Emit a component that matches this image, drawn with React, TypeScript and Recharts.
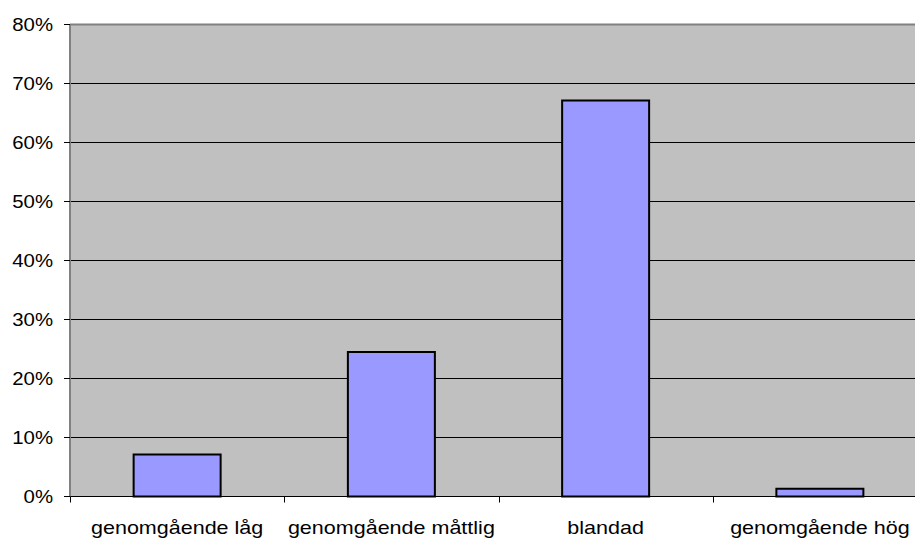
import React from "react";
import { BarChart, Bar, XAxis, YAxis, CartesianGrid, ReferenceLine } from "recharts";

const categories = ["genomgående låg", "genomgående måttlig", "blandad", "genomgående hög"];
const shares = [0.071, 0.245, 0.671, 0.013];
const yTicks = [0, 0.1, 0.2, 0.3, 0.4, 0.5, 0.6, 0.7, 0.8];

const data = categories.map((c, i) => ({ name: c, value: shares[i] }));

const CHART_W = 930;
const CHART_H = 541;
const MARGIN = { top: 24.5, right: 3, left: 0, bottom: 0 };
const Y_W = 70;
const PLOT_W = CHART_W - MARGIN.left - MARGIN.right - Y_W;
const HALF_BAND = PLOT_W / categories.length / 2;
const FONT = "Liberation Sans, Arial, sans-serif";

const XTick = (props: any) => {
  const { x, y, payload } = props;
  const top = y - 8;
  const lx = Math.round(x - HALF_BAND) + 0.5;
  return (
    <g>
      <line x1={lx} x2={lx} y1={top} y2={top + 6} stroke="#000" strokeWidth={1} />
      <text
        transform={`translate(${x},${top + 37.5}) scale(1.17,1)`}
        x={0}
        y={0}
        textAnchor="middle"
        fontFamily={FONT}
        fontSize={18.4}
        fill="#000"
      >
        {payload.value}
      </text>
    </g>
  );
};

const YTick = (props: any) => {
  const { x, y, payload } = props;
  return (
    <text
      transform={`translate(${x},${y}) scale(1.12,1)`}
      x={0}
      y={0}
      dy="0.38em"
      textAnchor="end"
      fontFamily={FONT}
      fontSize={18.2}
      fill="#000"
    >
      {`${Math.round(payload.value * 100)}%`}
    </text>
  );
};

export default function App() {
  return (
    <div style={{ position: "absolute", left: 0, top: 0, width: 915, height: 541, overflow: "hidden", background: "#fff" }}>
      <BarChart width={CHART_W} height={CHART_H} data={data} margin={MARGIN} barCategoryGap="29.7%">
        <CartesianGrid vertical={false} stroke="#000" fill="#C0C0C0" fillOpacity={1} />
        <XAxis
          dataKey="name"
          height={44.5}
          tickLine={false}
          axisLine={{ stroke: "#000", strokeWidth: 1 }}
          tick={<XTick />}
          interval={0}
        />
        <YAxis
          width={Y_W}
          domain={[0, 0.8]}
          ticks={yTicks}
          interval={0}
          tickSize={6}
          tickMargin={11}
          axisLine={{ stroke: "#808080", strokeWidth: 2 }}
          tickLine={{ stroke: "#000" }}
          tick={<YTick />}
        />
        <ReferenceLine y={0.8} stroke="#808080" strokeWidth={2} />
        <Bar dataKey="value" fill="#9999FF" stroke="#000" strokeWidth={2} isAnimationActive={false} />
      </BarChart>
    </div>
  );
}
